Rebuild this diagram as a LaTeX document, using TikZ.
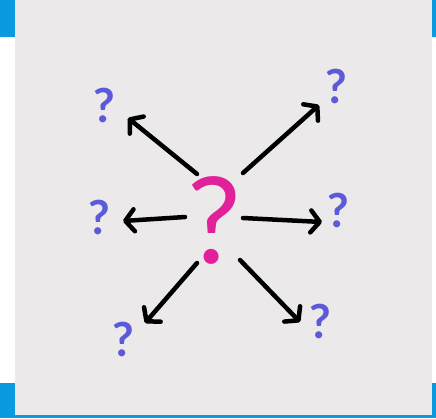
\documentclass[tikz,border=0pt]{standalone}
\usepackage{fontspec}
\setmainfont{Lato}
\usetikzlibrary{arrows.meta}
\definecolor{bgray}{HTML}{EBE9EA}
\definecolor{bblue}{HTML}{0A9ADF}
\definecolor{qblue}{HTML}{5C5AD8}
\definecolor{qmag}{HTML}{E0219A}
\tikzset{
  smallq/.style={text=qblue, inner sep=0pt, font=\bfseries\fontsize{47}{47}\selectfont},
  bigq/.style={text=qmag, inner sep=0pt, font=\fontsize{120}{120}\selectfont},
  arr/.style={line width=4.5pt, line cap=round, line join=round,
    -{Straight Barb[length=9pt, width=22pt, line cap=round, line join=round]}},
}
\begin{document}
\begin{tikzpicture}[x=1pt, y=-1pt]
\useasboundingbox (0,0) rectangle (436,418);
\fill[bblue] (0,0) rectangle (436,37);
\fill[bblue] (0,383) rectangle (436,418);
\fill[white] (0,37) rectangle (436,383);
\fill[bgray] (15,0) rectangle (432,415);

\node[bigq] (c) at (214,220) {?};
\node[smallq] (tl) at (104,105) {?};
\node[smallq] (tr) at (336,86) {?};
\node[smallq] (l) at (99,217) {?};
\node[smallq] (r) at (338,210) {?};
\node[smallq] (bl) at (123,339) {?};
\node[smallq] (br) at (320,321) {?};

\coordinate (stl) at (197,174);
\coordinate (str) at (243,173);
\coordinate (sl) at (185,217);
\coordinate (sr) at (243,218);
\coordinate (sbl) at (197,263);
\coordinate (sbr) at (240,260);
\coordinate (ttl) at (128,118);
\coordinate (ttr) at (319,105);
\coordinate (tl2) at (123,221);
\coordinate (tr2) at (322,222);
\coordinate (tbl) at (145,323);
\coordinate (tbr) at (300,322);

\draw[arr] (stl) -- (ttl);
\draw[arr] (str) -- (ttr);
\draw[arr] (sl) -- (tl2);
\draw[arr] (sr) -- (tr2);
\draw[arr] (sbl) -- (tbl);
\draw[arr] (sbr) -- (tbr);
\end{tikzpicture}
\end{document}
